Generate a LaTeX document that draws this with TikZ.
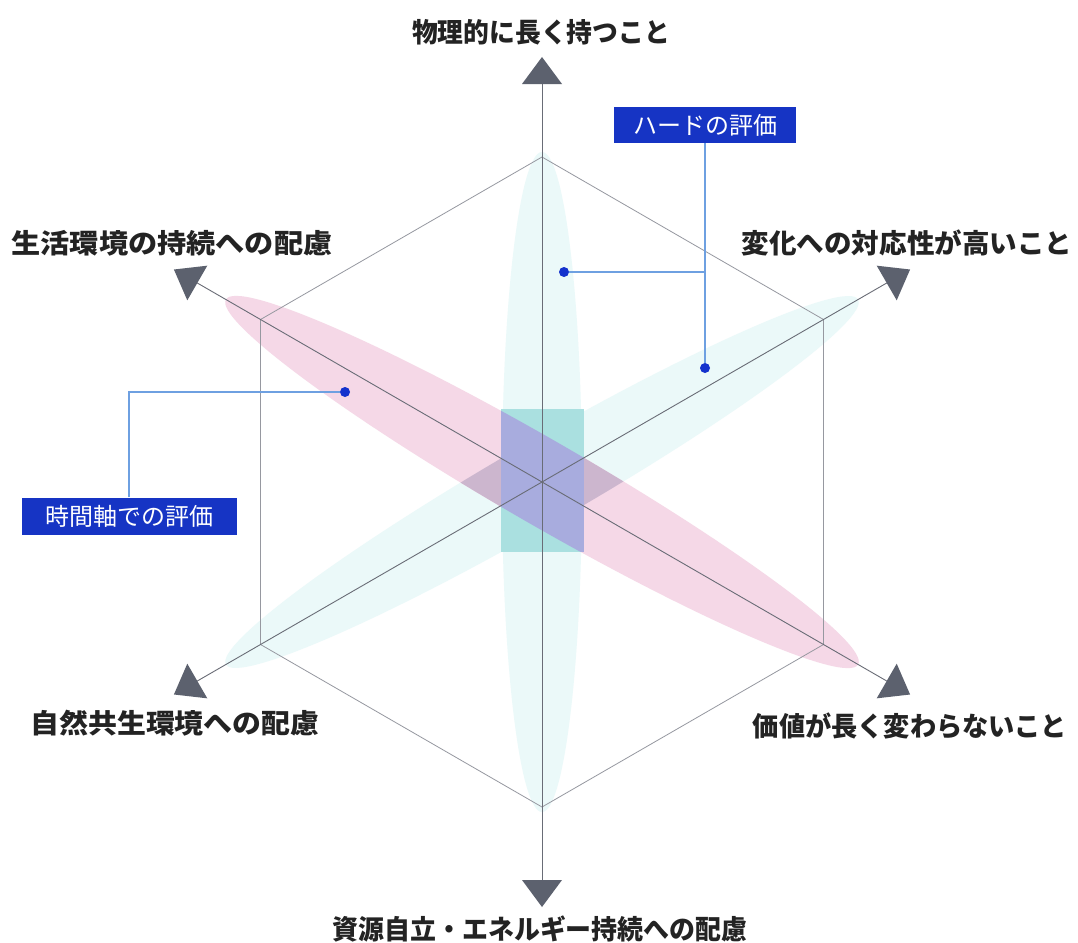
\documentclass[tikz,border=0pt]{standalone}
\usepackage{fontspec}
\usepackage{graphicx}
\newfontfamily\jp{Noto Sans CJK JP}
\usetikzlibrary{calc}
\definecolor{pinkf}{RGB}{245,216,231}
\definecolor{cyanfaint}{RGB}{235,249,249}
\definecolor{mauvef}{RGB}{204,182,206}
\definecolor{tealband}{RGB}{170,224,224}
\definecolor{bluemix}{RGB}{168,172,222}
\definecolor{axisgray}{RGB}{105,108,118}
\definecolor{hexgray}{RGB}{150,152,160}
\definecolor{arrowgray}{RGB}{92,97,110}
\definecolor{boxblue}{RGB}{22,52,196}
\definecolor{dotblue}{RGB}{20,50,205}
\definecolor{leadercol}{RGB}{110,160,225}
\definecolor{labelcol}{RGB}{35,35,35}
\begin{document}
\begin{tikzpicture}[x=1pt,y=-1pt,
  lab/.style={font=\jp\bfseries\fontsize{27}{30}\selectfont, text=labelcol, inner sep=0pt},
  hbox/.style={fill=boxblue, text=white, font=\jp\fontsize{24}{27}\selectfont, inner sep=0pt},
  dotn/.style={circle, fill=dotblue, minimum size=10pt, inner sep=0pt},
  leader/.style={draw=leadercol, line width=1.1pt},
  axisline/.style={draw=axisgray, line width=0.9pt},
  hexline/.style={draw=hexgray, line width=0.8pt}]
\useasboundingbox (0,0) rectangle (1078,942);
\fill[white] (0,0) rectangle (1078,942);
\coordinate (C) at (542,482);
% faint cyan ellipses (hard evaluation)
\fill[cyanfaint] (C) ellipse [x radius=40, y radius=330];
\fill[cyanfaint, rotate around={30:(C)}] (C) ellipse [x radius=365, y radius=41];
% pink ellipse (time axis evaluation)
\fill[pinkf, rotate around={-30:(C)}] (C) ellipse [x radius=365, y radius=42];
\begin{scope}
  \clip[rotate around={-30:(C)}] (C) ellipse [x radius=365, y radius=42];
  \fill[mauvef, rotate around={30:(C)}] (C) ellipse [x radius=365, y radius=41];
\end{scope}
% central band
\fill[tealband] (501,409) rectangle (584,552);
\begin{scope}
  \clip[rotate around={-30:(C)}] (C) ellipse [x radius=365, y radius=42];
  \fill[bluemix] (501,409) rectangle (584,552);
\end{scope}
% hexagon
\draw[hexline, shift={(C)}] (90:325) -- (30:325) -- (-30:325) -- (-90:325) -- (-150:325) -- (150:325) -- cycle;
% axes
\coordinate (aT) at (542,75);
\coordinate (aB) at (542,889);
\coordinate (aUL) at (189.5,278.5);
\coordinate (aUR) at (894.5,278.5);
\coordinate (aLL) at (189.5,685.5);
\coordinate (aLR) at (894.5,685.5);
\draw[axisline] (aT) -- (aB);
\draw[axisline] (aUL) -- (aLR);
\draw[axisline] (aUR) -- (aLL);
\foreach \ang/\nm in {90/aT, 30/aUR, -30/aLR, -90/aB, -150/aLL, 150/aUL}
  \fill[arrowgray, shift={(\nm)}, rotate=\ang] (18,0) -- (-9,20) -- (-9,-20) -- cycle;
% labels
\node[lab] (lT) at (541,32) {\scalebox{0.955}[1]{物理的に長く持つこと}};
\node[lab] (lUL) at (172,243) {\scalebox{1.08}[1]{生活環境の持続への配慮}};
\node[lab] (lUR) at (907,243) {\scalebox{1.02}[1]{変化への対応性が高いこと}};
\node[lab] (lLL) at (175,723) {\scalebox{1.07}[1]{自然共生環境への配慮}};
\node[lab] (lLR) at (910,726) {\scalebox{0.97}[1]{価値が長く変わらないこと}};
\node[lab] (lB) at (540,929) {\scalebox{0.96}[1]{資源自立・エネルギー持続への配慮}};
% hard evaluation callout
\node[hbox, minimum width=182pt, minimum height=36pt] (hard) at (705,125) {ハードの評価};
\coordinate (hj) at (705,272);
\node[dotn] (hd1) at (564,272) {};
\node[dotn] (hd2) at (705,368) {};
\draw[leader] (hard.south) -- (hd2);
\draw[leader] (hj) -- (hd1);
% time axis callout
\node[hbox, minimum width=215pt, minimum height=37pt] (time) at (129,516) {時間軸での評価};
\node[dotn] (td) at (345,392) {};
\draw[leader] (time.north) |- (td);
\end{tikzpicture}
\end{document}
